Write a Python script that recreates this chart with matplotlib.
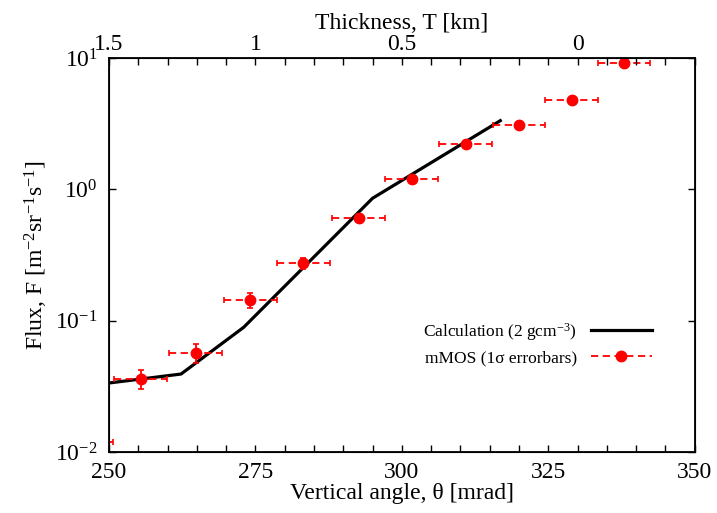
import matplotlib
matplotlib.use("Agg")
import matplotlib.pyplot as plt
from matplotlib.lines import Line2D
import numpy as np

plt.rcParams['font.family'] = ['Liberation Serif', 'DejaVu Serif']
plt.rcParams['mathtext.fontset'] = 'custom'
plt.rcParams['mathtext.rm'] = 'Liberation Serif'
plt.rcParams['mathtext.it'] = 'Liberation Serif:italic'
plt.rcParams['mathtext.default'] = 'regular'

# measured data (mMOS)
angle = [246.2, 255.4, 264.8, 274.1, 283.2, 292.6, 301.7, 310.9, 320.0, 329.0, 337.9]
flux = [0.012, 0.0359, 0.0568, 0.1435, 0.273, 0.604, 1.19, 2.21, 3.08, 4.79, 9.1]
flux_err = [0.003, 0.006, 0.009, 0.018, 0.025, 0.04, 0.07, 0.1, 0.15, 0.2, 0.3]
angle_err = [4.5, 4.5, 4.5, 4.5, 4.5, 4.5, 4.5, 4.5, 4.5, 4.5, 4.5]

# calculation
calc_angle = [250.0, 262.3, 273.0, 295.0, 316.8]
calc_flux = [0.0335, 0.0392, 0.089, 0.855, 3.33]

# top axis (thickness)
thick_pos = [250, 275, 300, 330]
thick_lab = ['1.5', '1', '0.5', '0']

FS = 17
dash = (0, (4, 2.5))

fig = plt.figure(figsize=(7.17, 5.13), dpi=100)
ax = fig.add_axes([0.152, 0.119, 0.817, 0.768])

ax.plot(calc_angle, calc_flux, color='black', lw=2.3, zorder=3)
eb = ax.errorbar(angle, flux, xerr=angle_err, yerr=flux_err, fmt='o', color='red',
                 ms=7.5, ecolor='red', elinewidth=1.3, capsize=2.5, capthick=1.2,
                 zorder=4)
for lc in eb[2]:
    lc.set_linestyle(dash)

ax.set_yscale('log')
ax.set_xlim(250, 350)
ax.set_ylim(1e-2, 1e1)
ax.set_xticks([250, 275, 300, 325, 350])
ax.set_xticks(np.arange(250, 351, 5), minor=True)
ax.yaxis.set_minor_locator(matplotlib.ticker.NullLocator())
ax.tick_params(axis='both', which='both', direction='in', length=5, width=1,
               labelsize=FS, top=False, right=True)
ax.tick_params(axis='x', pad=7)
ax.tick_params(axis='y', pad=8)
ax.set_xlabel('Vertical angle, θ [mrad]', fontsize=FS, labelpad=0)
ax.set_ylabel('Flux, F [m$^{-2}$sr$^{-1}$s$^{-1}$]', fontsize=FS, labelpad=4)
for s in ax.spines.values():
    s.set_linewidth(1.3)

ax2 = ax.twiny()
ax2.set_xlim(ax.get_xlim())
ax2.set_xticks(np.arange(250, 351, 5))
ax2.set_xticklabels([thick_lab[thick_pos.index(v)] if v in thick_pos else '' for v in np.arange(250, 351, 5)])
ax2.tick_params(axis='x', direction='in', length=5, width=1, labelsize=FS, pad=2)
ax2.set_xlabel('Thickness, T [km]', fontsize=FS, labelpad=4)

h_calc = Line2D([], [], color='black', lw=2.3)
h_meas = Line2D([], [], color='red', lw=1.3, ls=dash, marker='o', ms=7.5)
ax.legend([h_calc, h_meas], ['Calculation (2 gcm$^{-3}$)', 'mMOS (1σ errorbars)'],
          loc='center right', bbox_to_anchor=(0.953, 0.275), frameon=False,
          markerfirst=False, fontsize=12.5, handlelength=3.5, labelspacing=0.45,
          handletextpad=0.8)

fig.savefig('out.png', dpi=100)
